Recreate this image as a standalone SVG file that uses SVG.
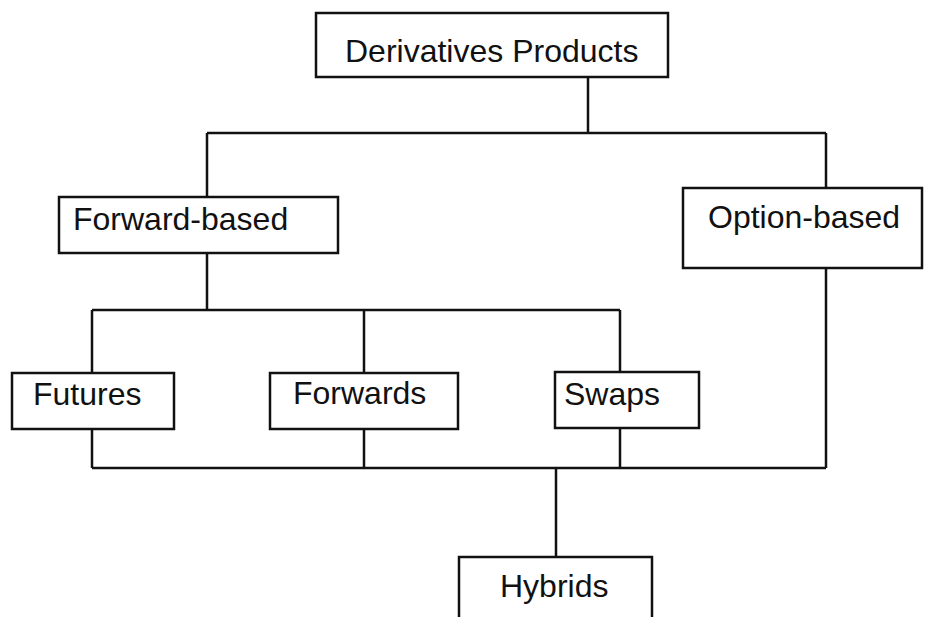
<svg xmlns="http://www.w3.org/2000/svg" width="926" height="617" viewBox="0 0 926 617">
<style>
.box{fill:#fff;stroke:#111;stroke-width:2.5}
.ln{fill:none;stroke:#111;stroke-width:2.5}
text{font-family:"Liberation Sans",Arial,sans-serif;font-size:32px;fill:#111}
</style>
<rect width="926" height="617" fill="#fff"/>
<g id="connectors">
<path class="ln" d="M588 77V133M207 133H826M207 133V197M826 133V188"/>
<path class="ln" d="M207 253V310M92 310H620M92 310V373M364 310V373M620 310V372"/>
<path class="ln" d="M92 429V468M364 429V468M620 428V468M826 268V468M92 468H826M556 468V557"/>
</g>
<g id="derivatives"><rect class="box" x="316" y="13" width="352" height="64"/><text x="345" y="62">Derivatives Products</text></g>
<g id="forward-based"><rect class="box" x="59" y="197" width="279" height="56"/><text x="73" y="230">Forward-based</text></g>
<g id="option-based"><rect class="box" x="683" y="188" width="239" height="80"/><text x="708" y="228">Option-based</text></g>
<g id="futures"><rect class="box" x="12" y="373" width="162" height="56"/><text x="33" y="405">Futures</text></g>
<g id="forwards"><rect class="box" x="270" y="373" width="188" height="56"/><text x="293" y="404">Forwards</text></g>
<g id="swaps"><rect class="box" x="555" y="372" width="144" height="56"/><text x="564" y="405">Swaps</text></g>
<g id="hybrids"><rect class="box" x="459" y="557" width="193" height="80"/><text x="500" y="597">Hybrids</text></g>
</svg>
